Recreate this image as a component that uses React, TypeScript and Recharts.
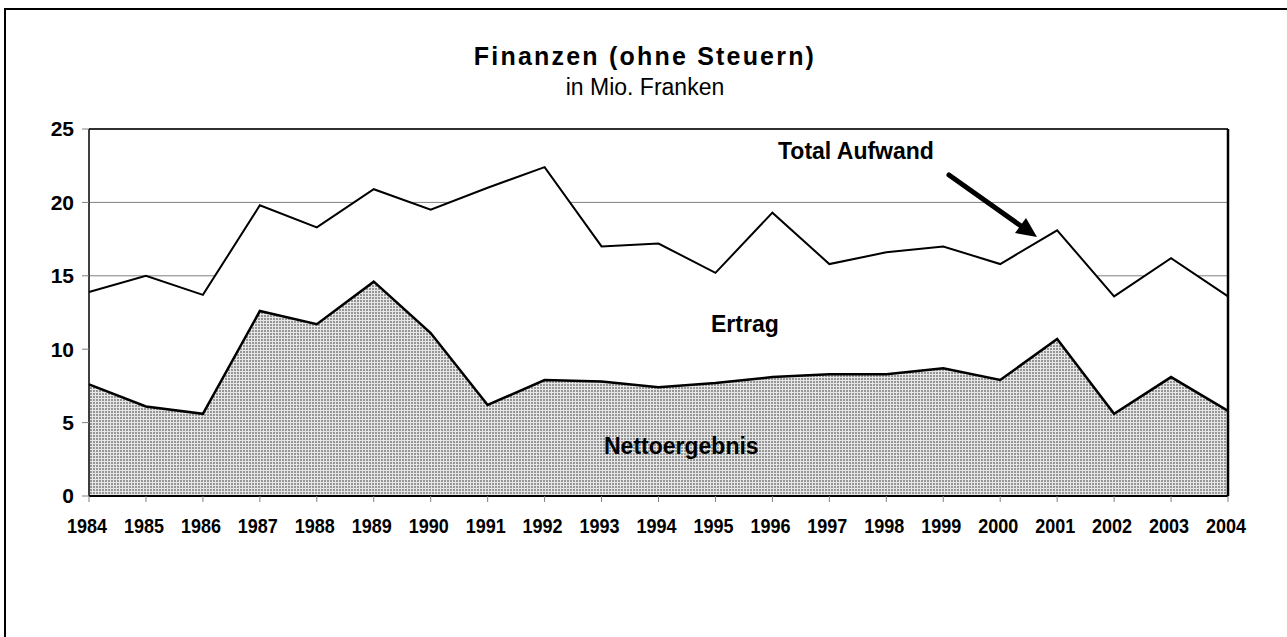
import * as React from "react";
import {
  AreaChart,
  Area,
  XAxis,
  YAxis,
  CartesianGrid,
  ReferenceLine,
} from "recharts";

// Chart values (Mio. Franken)
const years = [
  "1984", "1985", "1986", "1987", "1988", "1989", "1990", "1991", "1992", "1993", "1994",
  "1995", "1996", "1997", "1998", "1999", "2000", "2001", "2002", "2003", "2004",
];
const totalAufwand = [
  13.9, 15.0, 13.7, 19.8, 18.3, 20.9, 19.5, 21.0, 22.4, 17.0, 17.2,
  15.2, 19.3, 15.8, 16.6, 17.0, 15.8, 18.1, 13.6, 16.2, 13.6,
];
const nettoergebnis = [
  7.6, 6.1, 5.6, 12.6, 11.7, 14.6, 11.1, 6.2, 7.9, 7.8, 7.4,
  7.7, 8.1, 8.3, 8.3, 8.7, 7.9, 10.7, 5.6, 8.1, 5.8,
];
const yTicks = [0, 5, 10, 15, 20, 25];

const chartTitle = "Finanzen (ohne Steuern)";
const chartSubtitle = "in Mio. Franken";

const FONT = '"Liberation Sans", Arial, Helvetica, sans-serif';
const WIDTH = 1287;
const HEIGHT = 637;

const data = years.map((year, i) => ({
  year,
  total: totalAufwand[i],
  netto: nettoergebnis[i],
}));

// Free text labels placed over the plot
const annotationStyle: React.CSSProperties = {
  position: "absolute",
  fontFamily: FONT,
  fontWeight: "bold",
  fontSize: 23,
  color: "#000",
  whiteSpace: "nowrap",
  lineHeight: 1,
};

// Year labels are narrow and tall in the original, so squeeze them a bit
interface TickProps {
  x?: number;
  y?: number;
  payload?: { value: string };
}

const YearTick: React.FC<TickProps> = ({ x = 0, y = 0, payload }) => (
  <text
    x={x - 2}
    y={y}
    dy="0.71em"
    textAnchor="middle"
    fill="#000"
    fontFamily={FONT}
    fontWeight="bold"
    fontSize={21}
    textLength={40}
    lengthAdjust="spacingAndGlyphs"
  >
    {payload?.value}
  </text>
);

const App: React.FC = () => {
  return (
    <div
      style={{
        position: "fixed",
        left: 0,
        top: 0,
        width: WIDTH,
        height: HEIGHT,
        overflow: "hidden",
        background: "#fff",
      }}
    >
      {/* outer frame: only the left and top edges fall inside the picture */}
      <div
        style={{
          position: "absolute",
          left: 4,
          top: 8,
          width: WIDTH + 100,
          height: HEIGHT + 100,
          border: "2px solid #000",
        }}
      />

      <div
        style={{
          position: "absolute",
          left: 0,
          top: 44,
          width: 1290,
          textAlign: "center",
          fontFamily: FONT,
          fontWeight: "bold",
          fontSize: 25,
          letterSpacing: 2.2,
          lineHeight: 1,
        }}
      >
        {chartTitle}
      </div>
      <div
        style={{
          position: "absolute",
          left: 0,
          top: 76,
          width: 1290,
          textAlign: "center",
          fontFamily: FONT,
          fontSize: 23,
          lineHeight: 1,
        }}
      >
        {chartSubtitle}
      </div>

      <div style={{ position: "absolute", left: 0, top: 0 }}>
        <AreaChart
          width={WIDTH}
          height={HEIGHT}
          data={data}
          margin={{ top: 129, right: 59, bottom: 101, left: 0 }}
        >
          <defs>
            <pattern id="dots" width="3" height="3" patternUnits="userSpaceOnUse">
              <rect width="3" height="3" fill="#e6e6e6" />
              <rect width="2" height="2" fill="#969696" />
            </pattern>
          </defs>
          <CartesianGrid vertical={false} stroke="#808080" strokeWidth={1} />
          <Area
            type="linear"
            dataKey="total"
            stroke="#000"
            strokeWidth={2}
            fill="#fff"
            fillOpacity={1}
            dot={false}
            activeDot={false}
            isAnimationActive={false}
          />
          <Area
            type="linear"
            dataKey="netto"
            stroke="#000"
            strokeWidth={2.5}
            fill="url(#dots)"
            fillOpacity={1}
            dot={false}
            activeDot={false}
            isAnimationActive={false}
          />
          <ReferenceLine y={25} stroke="#000" strokeWidth={1.5} />
          <ReferenceLine x="2004" stroke="#000" strokeWidth={2.5} />
          <XAxis
            dataKey="year"
            height={40}
            interval={0}
            tickSize={6}
            tickMargin={16}
            axisLine={{ stroke: "#000", strokeWidth: 2 }}
            tickLine={{ stroke: "#808080" }}
            tick={<YearTick />}
          />
          <YAxis
            width={89}
            domain={[0, 25]}
            ticks={yTicks}
            interval={0}
            tickSize={7}
            tickMargin={8}
            axisLine={{ stroke: "#000", strokeWidth: 1.5 }}
            tickLine={{ stroke: "#808080" }}
            tick={{ fill: "#000", fontFamily: FONT, fontWeight: "bold", fontSize: 21 }}
          />
        </AreaChart>
      </div>

      {/* series labels */}
      <div style={{ ...annotationStyle, left: 778, top: 140 }}>Total Aufwand</div>
      <div style={{ ...annotationStyle, left: 711, top: 313 }}>Ertrag</div>
      <div style={{ ...annotationStyle, left: 604, top: 435 }}>Nettoergebnis</div>

      {/* arrow pointing at the Total Aufwand line */}
      <svg
        width={WIDTH}
        height={HEIGHT}
        style={{ position: "absolute", left: 0, top: 0, pointerEvents: "none" }}
      >
        <line x1={949} y1={175} x2={1021} y2={226} stroke="#000" strokeWidth={5} strokeLinecap="round" />
        <polygon points="1037,237 1015,233 1026,218" fill="#000" />
      </svg>
    </div>
  );
};

export default App;
